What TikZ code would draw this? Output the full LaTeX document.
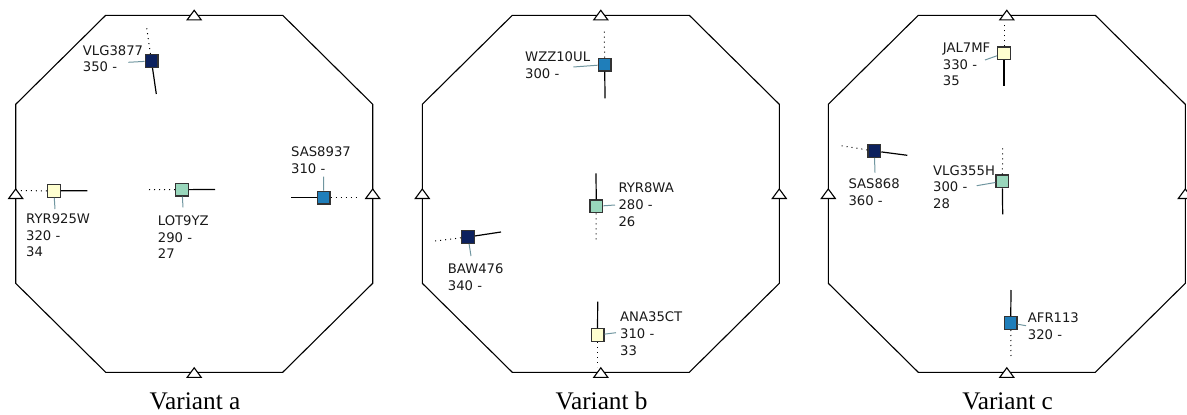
\documentclass[tikz,border=0pt]{standalone}
\usepackage{fontspec}
\setmainfont{Liberation Serif}
\newfontfamily\tagfont{DejaVu Sans}
\usetikzlibrary{positioning}
\definecolor{AcNavy}{RGB}{12,33,94}
\definecolor{AcBlue}{RGB}{31,126,186}
\definecolor{AcMint}{RGB}{153,215,188}
\definecolor{AcYellow}{RGB}{255,255,208}
\definecolor{LeaderGrey}{RGB}{112,150,160}

\begin{document}
\begin{tikzpicture}[
  x=1pt, y=-1pt,
  sector/.style={draw=black, line width=1.1pt, line join=miter},
  gate/.pic={\draw[fill=white, line width=1.1pt] (-7,4.5) -- (7,4.5) -- (0,-5) -- cycle;},
  acft/.style={draw=black!80, line width=1.3pt, minimum size=12.7pt, inner sep=0pt},
  datablock/.style={font=\tagfont\fontsize{13.2}{16.7}\selectfont, align=left, anchor=base west, inner sep=0pt, text=black!90},
  hdg/.style={line width=1.2pt},
  trail/.style={line width=1pt, dash pattern=on 1pt off 4pt},
  leader/.style={draw=LeaderGrey, line width=1pt},
  caption/.style={font=\fontsize{25.3}{30}\selectfont, anchor=base}
]
\useasboundingbox (0,0) rectangle (1187,415);

% sectors
\foreach \ox/\v in {0/a, 406.6/b, 812.6/c}{
  \draw[sector] (\ox+105.7,15.3) -- (\ox+282.7,15.3) -- (\ox+372.7,104.3) -- (\ox+372.7,283.3)
    -- (\ox+282.7,372.3) -- (\ox+105.7,372.3) -- (\ox+15.7,283.3) -- (\ox+15.7,104.3) -- cycle;
  \node[caption] (cap\v) at (\ox+195,409) {Variant \v};
}

% Variant a (tags sit on the baseline of their last line)
\node[acft, fill=AcNavy] (vlg3877) at (151.5,61) {};
\node[datablock] (vlg3877tag) at (82.7,71.7) {VLG3877\\350 -};
\coordinate (vlg3877h) at (156.3,94); \coordinate (vlg3877t) at (146.7,28); \coordinate (vlg3877l) at (128.3,62.3);
\draw[hdg] (vlg3877) -- (vlg3877h);
\draw[trail] (vlg3877) -- (vlg3877t);
\draw[leader] (vlg3877) -- (vlg3877l);

\node[acft, fill=AcBlue] (sas8937) at (323.7,197.7) {};
\node[datablock] (sas8937tag) at (291,173.4) {SAS8937\\310 -};
\coordinate (sas8937h) at (290.7,197.7); \coordinate (sas8937t) at (358.3,197.7); \coordinate (sas8937l) at (323.5,176.7);
\draw[hdg] (sas8937) -- (sas8937h);
\draw[trail] (sas8937) -- (sas8937t);
\draw[leader] (sas8937) -- (sas8937l);

\node[acft, fill=AcYellow] (ryr925w) at (53.8,190.8) {};
\node[datablock] (ryr925wtag) at (26,256.7) {RYR925W\\320 -\\34};
\coordinate (ryr925wh) at (87.3,190.7); \coordinate (ryr925wt) at (20,190.7); \coordinate (ryr925wl) at (55,209);
\draw[hdg] (ryr925w) -- (ryr925wh);
\draw[trail] (ryr925w) -- (ryr925wt);
\draw[leader] (ryr925w) -- (ryr925wl);

\node[acft, fill=AcMint] (lot9yz) at (182,189.7) {};
\node[datablock] (lot9yztag) at (157.7,258.9) {LOT9YZ\\290 -\\27};
\coordinate (lot9yzh) at (215,189.4); \coordinate (lot9yzt) at (148.3,189.5); \coordinate (lot9yzl) at (183,207.3);
\draw[hdg] (lot9yz) -- (lot9yzh);
\draw[trail] (lot9yz) -- (lot9yzt);
\draw[leader] (lot9yz) -- (lot9yzl);

% Variant b
\node[acft, fill=AcBlue] (wzz10ul) at (604.7,64.7) {};
\node[datablock] (wzz10ultag) at (525,78.4) {WZZ10UL\\300 -};
\coordinate (wzz10ulh) at (605,98.3); \coordinate (wzz10ult) at (604.3,31.7); \coordinate (wzz10ull) at (573.3,67);
\draw[hdg] (wzz10ul) -- (wzz10ulh);
\draw[trail] (wzz10ul) -- (wzz10ult);
\draw[leader] (wzz10ul) -- (wzz10ull);

\node[acft, fill=AcMint] (ryr8wa) at (596.3,206.3) {};
\node[datablock] (ryr8watag) at (618.3,226.1) {RYR8WA\\280 -\\26};
\coordinate (ryr8wah) at (596,173.3); \coordinate (ryr8wat) at (596,240); \coordinate (ryr8wal) at (615,205);
\draw[hdg] (ryr8wa) -- (ryr8wah);
\draw[trail] (ryr8wa) -- (ryr8wat);
\draw[leader] (ryr8wa) -- (ryr8wal);

\node[acft, fill=AcNavy] (baw476) at (468,237) {};
\node[datablock] (baw476tag) at (447.7,290) {BAW476\\340 -};
\coordinate (baw476h) at (501,232); \coordinate (baw476t) at (435,241); \coordinate (baw476l) at (471,256);
\draw[hdg] (baw476) -- (baw476h);
\draw[trail] (baw476) -- (baw476t);
\draw[leader] (baw476) -- (baw476l);

\node[acft, fill=AcYellow] (ana35ct) at (597.5,335) {};
\node[datablock] (ana35cttag) at (620,355.1) {ANA35CT\\310 -\\33};
\coordinate (ana35cth) at (597.7,301.7); \coordinate (ana35ctt) at (597.5,367); \coordinate (ana35ctl) at (616,332.7);
\draw[hdg] (ana35ct) -- (ana35cth);
\draw[trail] (ana35ct) -- (ana35ctt);
\draw[leader] (ana35ct) -- (ana35ctl);

% Variant c
\node[acft, fill=AcYellow] (jal7mf) at (1004,53.3) {};
\node[datablock] (jal7mftag) at (942.7,85.7) {JAL7MF\\330 -\\35};
\coordinate (jal7mfh) at (1004,86); \coordinate (jal7mft) at (1004,21.7); \coordinate (jal7mfl) at (985,60);
\draw[hdg] (jal7mf) -- (jal7mfh);
\draw[trail] (jal7mf) -- (jal7mft);
\draw[leader] (jal7mf) -- (jal7mfl);

\node[acft, fill=AcNavy] (sas868) at (874.3,151) {};
\node[datablock] (sas868tag) at (848.3,205) {SAS868\\360 -};
\coordinate (sas868h) at (907.3,155.3); \coordinate (sas868t) at (841,145.7); \coordinate (sas868l) at (875,172.7);
\draw[hdg] (sas868) -- (sas868h);
\draw[trail] (sas868) -- (sas868t);
\draw[leader] (sas868) -- (sas868l);

\node[acft, fill=AcMint] (vlg355h) at (1002.3,181.3) {};
\node[datablock] (vlg355htag) at (933,208.4) {VLG355H\\300 -\\28};
\coordinate (vlg355hh) at (1002.7,214.3); \coordinate (vlg355ht) at (1002.7,147.7); \coordinate (vlg355hl) at (976.7,185.7);
\draw[hdg] (vlg355h) -- (vlg355hh);
\draw[trail] (vlg355h) -- (vlg355ht);
\draw[leader] (vlg355h) -- (vlg355hl);

\node[acft, fill=AcBlue] (afr113) at (1010.7,323) {};
\node[datablock] (afr113tag) at (1027.7,339.4) {AFR113\\320 -};
\coordinate (afr113h) at (1011,290); \coordinate (afr113t) at (1011,356.7); \coordinate (afr113l) at (1026,325.7);
\draw[hdg] (afr113) -- (afr113h);
\draw[trail] (afr113) -- (afr113t);
\draw[leader] (afr113) -- (afr113l);

% gates
\foreach \ox in {0, 406.6, 812.6}{
  \pic at (\ox+194.2,15.3) {gate};
  \pic at (\ox+194.2,372.8) {gate};
  \pic at (\ox+15.7,194) {gate};
  \pic at (\ox+372.7,194) {gate};
}
\end{tikzpicture}
\end{document}
